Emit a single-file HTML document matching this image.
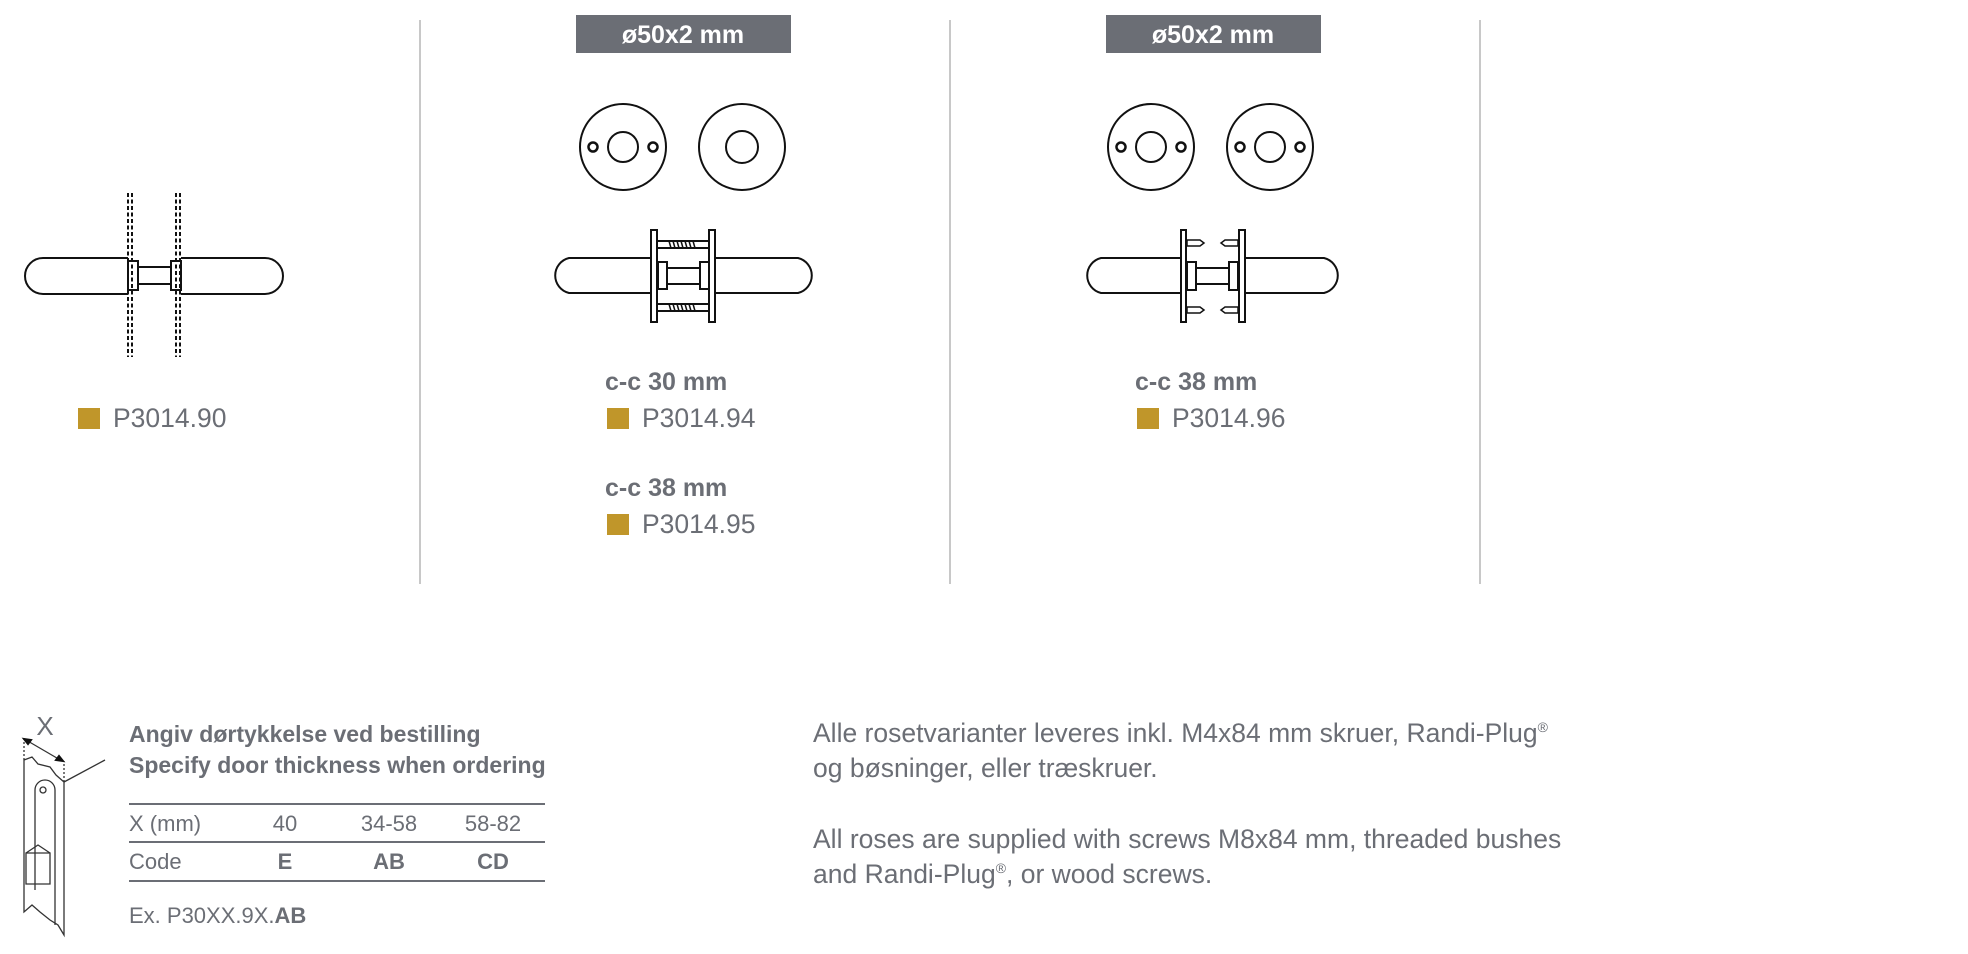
<!DOCTYPE html>
<html><head><meta charset="utf-8"><style>
html,body{margin:0;padding:0;background:#fff;}
body{width:1968px;height:954px;position:relative;overflow:hidden;font-family:"Liberation Sans",sans-serif;color:#6b6e75;}
.t{position:absolute;white-space:nowrap;line-height:1;}
.sq{position:absolute;width:22px;height:21px;background:#c0962a;}
.b{font-weight:bold;}
</style></head><body>
<svg width="1968" height="954" style="position:absolute;left:0;top:0" xmlns="http://www.w3.org/2000/svg">
<g stroke="#c8c8c8" stroke-width="2"><line x1="420" y1="20" x2="420" y2="584"/><line x1="950" y1="20" x2="950" y2="584"/><line x1="1480" y1="20" x2="1480" y2="584"/></g>
<rect x="576" y="15" width="215" height="38" fill="#6b6e75"/>
<rect x="1106" y="15" width="215" height="38" fill="#6b6e75"/>
<text x="683" y="43" fill="#fff" font-size="25" font-weight="bold" text-anchor="middle" font-family="Liberation Sans, sans-serif">ø50x2 mm</text>
<text x="1213" y="43" fill="#fff" font-size="25" font-weight="bold" text-anchor="middle" font-family="Liberation Sans, sans-serif">ø50x2 mm</text>
<g fill="none" stroke="#111" stroke-width="2">
<!-- set 1 -->
<path d="M128 258 H43 A18 18 0 0 0 43 294 H128"/>
<path d="M181 258 H265 A18 18 0 0 1 265 294 H181"/>
<rect x="128" y="261" width="10" height="29"/><rect x="171" y="261" width="10" height="29"/>
<rect x="138" y="267" width="33" height="17"/>
<g stroke-dasharray="4 2.5"><line x1="128" y1="193" x2="128" y2="357"/><line x1="132" y1="193" x2="132" y2="357"/><line x1="176" y1="193" x2="176" y2="357"/><line x1="180" y1="193" x2="180" y2="357"/></g>
<!-- set 2 rosettes -->
<circle cx="623" cy="147" r="43"/><circle cx="623" cy="147" r="15"/>
<circle cx="593" cy="147" r="4.5" stroke-width="2.5"/><circle cx="653" cy="147" r="4.5" stroke-width="2.5"/>
<circle cx="742" cy="147" r="43"/><circle cx="742" cy="147" r="16"/>
<!-- set 2 handle -->
<path d="M651 258 H572 A18 18 0 0 0 572 293 H651" transform="translate(-3 0)"/>
<path d="M715 258 H795 A18 18 0 0 1 795 293 H715" transform="translate(3 0)"/>
<line x1="648" y1="258" x2="651" y2="258"/><line x1="648" y1="293" x2="651" y2="293"/>
<line x1="715" y1="258" x2="718" y2="258"/><line x1="715" y1="293" x2="718" y2="293"/>
<rect x="651" y="230" width="6" height="92"/><rect x="709" y="230" width="6" height="92"/>
<rect x="658" y="262" width="9" height="27"/><rect x="700" y="262" width="9" height="27"/>
<rect x="667" y="268" width="33" height="16"/>
<rect x="657" y="241" width="52" height="7"/><rect x="657" y="304" width="52" height="7"/>
<g stroke-width="1.5"><path d="M669 241 l2 7 m2 -7 l2 7 m2 -7 l2 7 m2 -7 l2 7 m2 -7 l2 7 m2 -7 l2 7 m2 -7 l2 7"/><path d="M669 304 l2 7 m2 -7 l2 7 m2 -7 l2 7 m2 -7 l2 7 m2 -7 l2 7 m2 -7 l2 7 m2 -7 l2 7"/></g>
<!-- set 3 rosettes -->
<circle cx="1151" cy="147" r="43"/><circle cx="1151" cy="147" r="15"/>
<circle cx="1121" cy="147" r="4.5" stroke-width="2.5"/><circle cx="1181" cy="147" r="4.5" stroke-width="2.5"/>
<circle cx="1270" cy="147" r="43"/><circle cx="1270" cy="147" r="15"/>
<circle cx="1240" cy="147" r="4.5" stroke-width="2.5"/><circle cx="1300" cy="147" r="4.5" stroke-width="2.5"/>
<!-- set 3 handle -->
<path d="M1181 258 H1101 A18 18 0 0 0 1101 293 H1181"/>
<path d="M1245 258 H1324 A18 18 0 0 1 1324 293 H1245"/>
<rect x="1181" y="230" width="5" height="92"/><rect x="1239" y="230" width="6" height="92"/>
<rect x="1187" y="262" width="9" height="28"/><rect x="1229" y="262" width="9" height="28"/>
<rect x="1196" y="268" width="33" height="16"/>
<g stroke-width="1.5">
<path d="M1187 240 h13 l4 3 l-4 3 h-13 z"/><path d="M1187 307 h13 l4 3 l-4 3 h-13 z"/>
<path d="M1238 240 h-13 l-4 3 l4 3 h13 z"/><path d="M1238 307 h-13 l-4 3 l4 3 h13 z"/>
</g>
<!-- door -->
<g stroke-width="1.3" stroke="#333">
<path d="M24 760 L32 757 L38 764 L50 767 L56 775 L64 782 L64 935 L58 925 L50 920 L40 912 L32 905 L24 912 Z"/>
<path d="M64 782 L105 760"/>
<path d="M64 782 L64 761" stroke-dasharray="2 2"/><path d="M24 760 L24 738" stroke-dasharray="2 2"/>
<path d="M26 740 L62 761"/>
<path d="M35 890 V790 A10 10 0 0 1 55 790 V925"/>
<circle cx="43" cy="790" r="3"/>
<path d="M26 853 L50 853 L50 884 L26 884 Z M26 853 L38 845 L50 853"/>
</g>
<path d="M24 739 l7 1 l-3 4 z M63 761 l-7 -1 l3 -4 z" fill="#111"/>
</g>
<text x="45" y="735" fill="#6b6e75" font-size="26" text-anchor="middle" font-family="Liberation Sans, sans-serif">X</text>
<g stroke="#6b6e75" stroke-width="2"><line x1="129" y1="804" x2="545" y2="804"/><line x1="129" y1="842" x2="545" y2="842"/><line x1="129" y1="881" x2="545" y2="881"/></g>
</svg>

<div class="sq" style="left:78px;top:408px"></div><div class="t" style="left:113px;top:405px;font-size:26.5px">P3014.90</div>
<div class="t b" style="left:605px;top:370px;font-size:25px">c-c 30 mm</div>
<div class="sq" style="left:607px;top:408px"></div><div class="t" style="left:642px;top:405px;font-size:26.5px">P3014.94</div>
<div class="t b" style="left:605px;top:476px;font-size:25px">c-c 38 mm</div>
<div class="sq" style="left:607px;top:514px"></div><div class="t" style="left:642px;top:511px;font-size:26.5px">P3014.95</div>
<div class="t b" style="left:1135px;top:370px;font-size:25px">c-c 38 mm</div>
<div class="sq" style="left:1137px;top:408px"></div><div class="t" style="left:1172px;top:405px;font-size:26.5px">P3014.96</div>

<div class="t b" style="left:129px;top:723px;font-size:23px">Angiv dørtykkelse ved bestilling</div>
<div class="t b" style="left:129px;top:754px;font-size:23px">Specify door thickness when ordering</div>
<div class="t" style="left:129px;top:813px;font-size:22px">X (mm)</div>
<div class="t" style="left:285px;top:813px;font-size:22px;transform:translateX(-50%)">40</div>
<div class="t" style="left:389px;top:813px;font-size:22px;transform:translateX(-50%)">34-58</div>
<div class="t" style="left:493px;top:813px;font-size:22px;transform:translateX(-50%)">58-82</div>
<div class="t" style="left:129px;top:851px;font-size:22px">Code</div>
<div class="t b" style="left:285px;top:851px;font-size:22px;transform:translateX(-50%)">E</div>
<div class="t b" style="left:389px;top:851px;font-size:22px;transform:translateX(-50%)">AB</div>
<div class="t b" style="left:493px;top:851px;font-size:22px;transform:translateX(-50%)">CD</div>
<div class="t" style="left:129px;top:905px;font-size:22px">Ex. P30XX.9X.<b>AB</b></div>

<div class="t" style="left:813px;top:720px;font-size:26.5px">Alle rosetvarianter leveres inkl. M4x84 mm skruer, Randi-Plug<sup style="font-size:14px">®</sup></div>
<div class="t" style="left:813px;top:755px;font-size:26.5px">og bøsninger, eller træskruer.</div>
<div class="t" style="left:813px;top:826px;font-size:26.5px">All roses are supplied with screws M8x84 mm, threaded bushes</div>
<div class="t" style="left:813px;top:861px;font-size:26.5px">and Randi-Plug<sup style="font-size:14px">®</sup>, or wood screws.</div>
</body></html>
